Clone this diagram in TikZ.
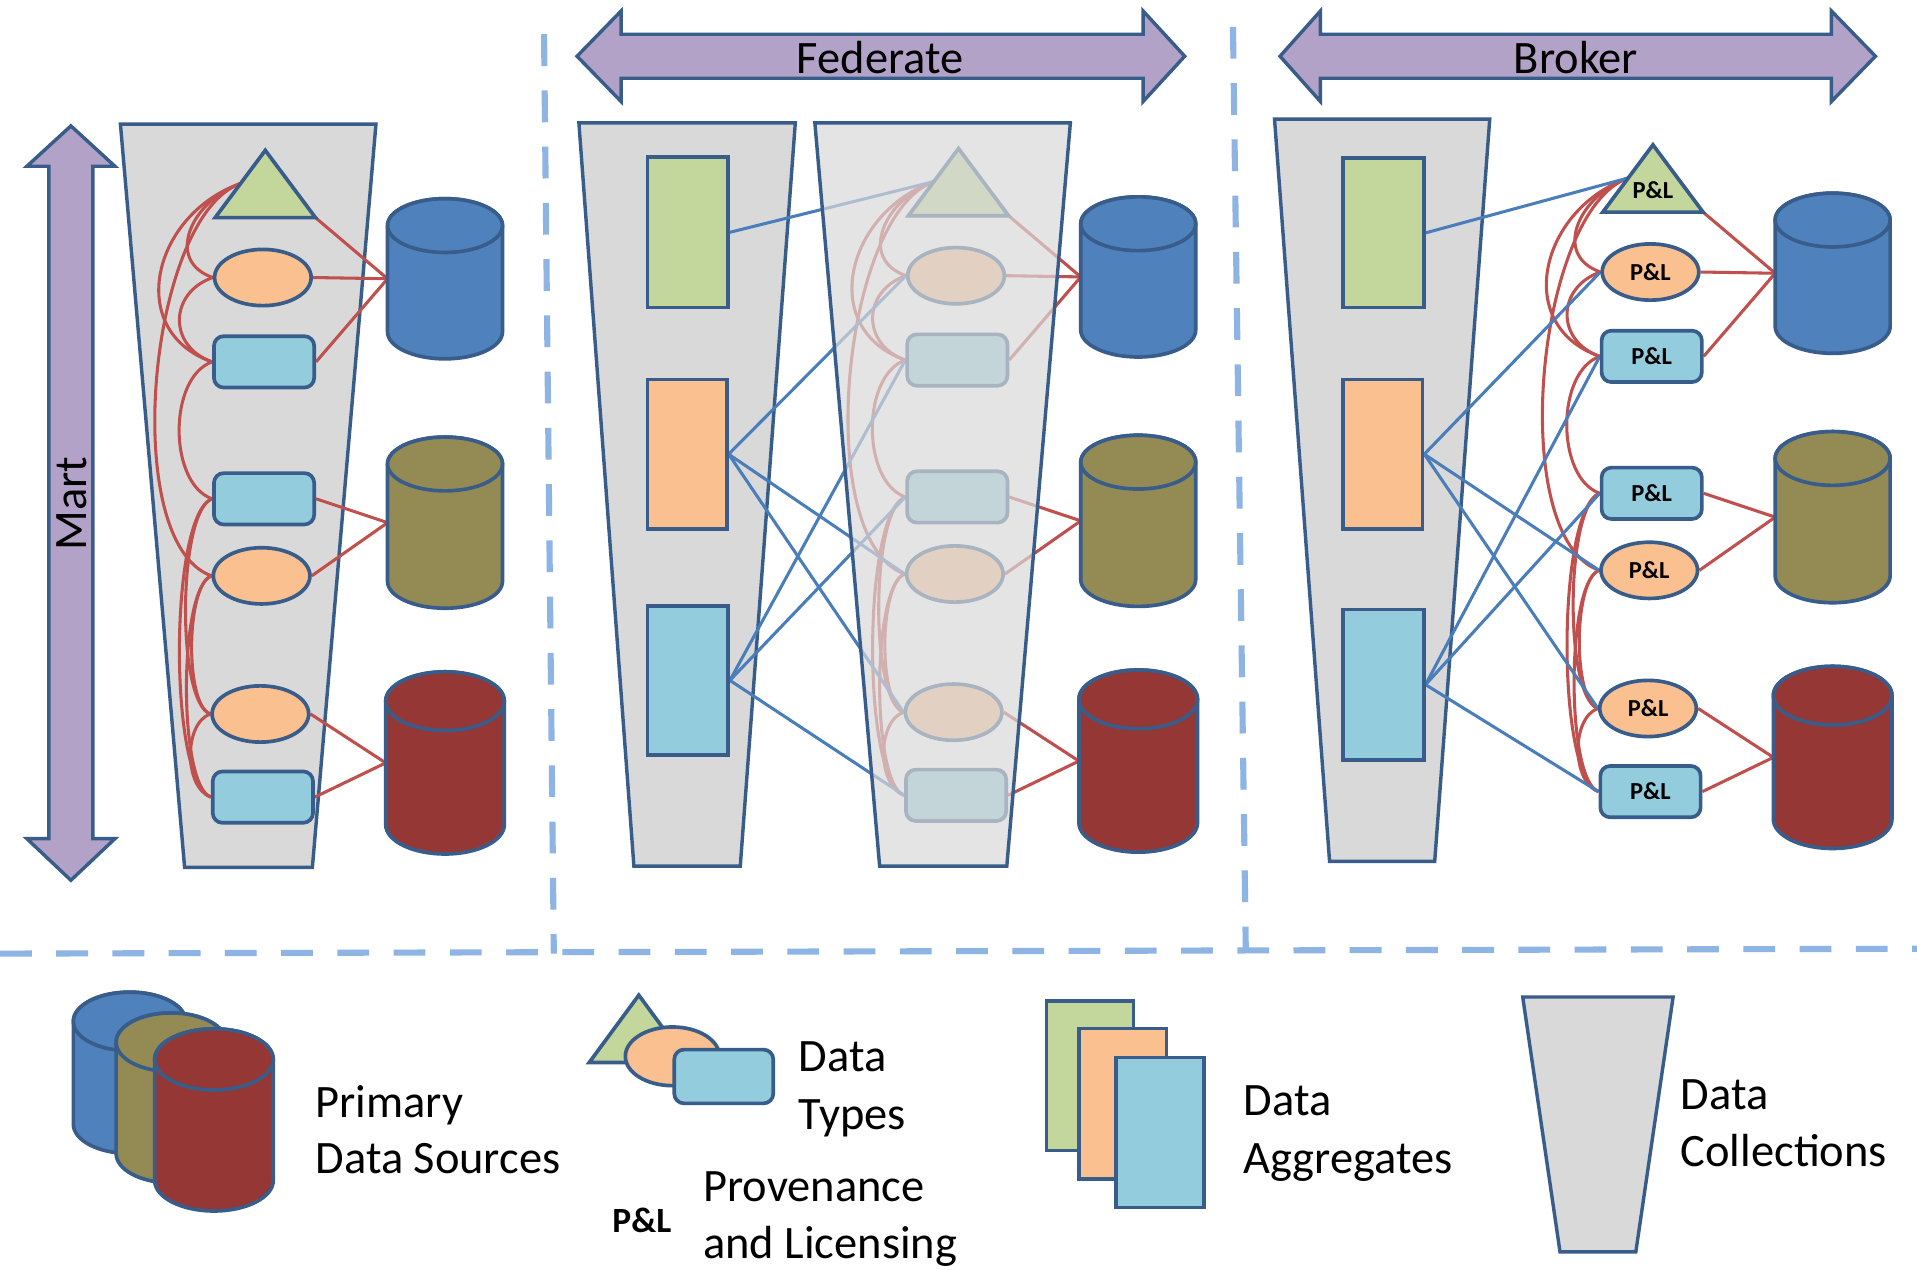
\documentclass[tikz,border=0pt]{standalone}
\usepackage{fontspec}
\setmainfont{Carlito}
\usetikzlibrary{shapes.geometric}
\pgfdeclarelayer{back}
\pgfdeclarelayer{lines}
\pgfdeclarelayer{over}
\pgfsetlayers{back,lines,main,over}
\definecolor{strk}{HTML}{385D8A}
\definecolor{cgray}{HTML}{D9D9D9}
\definecolor{tblue}{HTML}{93CDDD}
\definecolor{torange}{HTML}{FAC090}
\definecolor{tgreen}{HTML}{C3D69B}
\definecolor{lred}{HTML}{C0504D}
\definecolor{lblue}{HTML}{4A7EBB}
\definecolor{purp}{HTML}{B3A2C7}
\definecolor{dashc}{HTML}{8EB4E3}
\definecolor{cylb}{HTML}{4F81BD}
\definecolor{cylo}{HTML}{948A54}
\definecolor{cylr}{HTML}{953735}
\tikzset{
 sOut/.style={draw=strk, line width=3pt},
 sTri/.style={sOut, fill=tgreen},
 sRect/.style={sOut, fill=tblue, rectangle, rounded corners=8pt, minimum width=82pt, minimum height=42pt, inner sep=0pt, font=\bfseries\fontsize{20}{24}\selectfont},
 sEll/.style={sOut, fill=torange, ellipse, minimum width=79pt, minimum height=46pt, inner sep=0pt, font=\bfseries\fontsize{20}{24}\selectfont},
 sPL/.style={inner sep=0pt, font=\bfseries\fontsize{20}{24}\selectfont},
 sAgg/.style={sOut, rectangle, inner sep=0pt},
 sColl/.style={draw=strk, line width=2.8pt, fill=cgray},
 sRed/.style={draw=lred, line width=2.5pt},
 sBlue/.style={draw=lblue, line width=2.5pt},
 sArrow/.style={draw=strk, line width=2.8pt, fill=purp},
 sDash/.style={draw=dashc, line width=5pt, dash pattern=on 26pt off 20pt},
 sLbl/.style={inner sep=0pt, font=\fontsize{38}{46}\selectfont},
}
\newcommand\cylshape[7]{%
 \path[sOut, fill=#7] ({#2-#5},#3) -- ({#2-#5},#4) arc[start angle=180, end angle=0, x radius=#5, y radius=#6] -- ({#2+#5},#3) arc[start angle=0, end angle=-180, x radius=#5, y radius=#6] -- cycle;
 \path[sOut, fill=#7] (#2,#3) ellipse[x radius=#5, y radius=#6];
 \coordinate (#1) at ({#2-#5},{(#3+#4)/2});
}
\newcommand\rcurve[3]{\draw[sRed] (#1) .. controls +({-#3},{0.35*#3}) and +({-#3},{-0.35*#3}) .. (#2);}
\newcommand\typecol[4]{%
\begin{scope}[shift={(#2,#3)}]
 \path[sTri] (217,123) -- (258,178) -- (176,178) -- cycle;
 \coordinate (#1tr) at (258,178);
 \coordinate (#1tp) at (197,150);
 \node[sPL] (#1tx) at (217,160) {#4};
 \node[sEll] (#1e1) at (215,227) {#4};
 \node[sRect] (#1r1) at (216,296) {#4};
 \node[sRect] (#1r2) at (216,408) {#4};
 \node[sEll] (#1e2) at (214,471) {#4};
 \node[sEll] (#1e3) at (213,584) {#4};
 \node[sRect] (#1r3) at (215,652) {#4};
 \cylshape{#1cb}{364}{184.5}{271.5}{47}{22}{cylb}
 \cylshape{#1co}{364}{379.5}{475.5}{47}{22}{cylo}
 \cylshape{#1cr}{364}{573.5}{674.5}{48.5}{24}{cylr}
\end{scope}
\begin{pgfonlayer}{lines}
 \rcurve{#1tp}{#1e1.west}{40}
 \rcurve{#1tp}{#1r1.west}{72}
 \rcurve{#1tp}{#1e2.west}{76}
 \rcurve{#1e1.west}{#1r1.west}{36}
 \rcurve{#1r1.west}{#1r2.west}{36}
 \rcurve{#1r2.west}{#1e3.west}{28}
 \rcurve{#1r2.west}{#1r3.west}{35}
 \rcurve{#1e2.west}{#1e3.west}{21}
 \rcurve{#1e2.west}{#1r3.west}{27}
 \rcurve{#1e3.west}{#1r3.west}{22}
 \draw[sRed] (#1tr) -- (#1cb);
 \draw[sRed] (#1e1.east) -- (#1cb);
 \draw[sRed] (#1r1.east) -- (#1cb);
 \draw[sRed] (#1r2.east) -- (#1co);
 \draw[sRed] (#1e2.east) -- (#1co);
 \draw[sRed] (#1e3.east) -- (#1cr);
 \draw[sRed] (#1r3.east) -- (#1cr);
\end{pgfonlayer}}
\begin{document}
\begin{tikzpicture}[x=1pt,y=-1pt]
\useasboundingbox (0,0) rectangle (1568,1038);
\begin{pgfonlayer}{back}
 \fill[white] (0,0) rectangle (1568,1038);
 \draw[sDash] (445,28) -- (453,780);
 \draw[sDash] (1008.5,22) -- (1019,778);
 \draw[sDash] (0,780) -- (1568,776);
 % block arrows
 \path[sArrow] (472,46) -- (508,9) -- (508,28) -- (935,28) -- (935,9) -- (969,46) -- (935,83) -- (935,64) -- (508,64) -- (508,83) -- cycle;
 \path[sArrow] (1047,46) -- (1080,9) -- (1080,28) -- (1498,28) -- (1498,9) -- (1534,46) -- (1498,83) -- (1498,64) -- (1080,64) -- (1080,83) -- cycle;
 \path[sArrow] (58,103) -- (94,136) -- (76,136) -- (76,686) -- (94,686) -- (58,720) -- (22,686) -- (40,686) -- (40,136) -- (22,136) -- cycle;
 % collections
 \path[sColl] (98.5,101.5) -- (307.5,101.5) -- (255.5,709.5) -- (151,709.5) -- cycle;
 \path[sColl] (473.5,100.5) -- (650.5,100.5) -- (605.5,708.5) -- (518.5,708.5) -- cycle;
 \path[sColl] (1042.5,97.5) -- (1218.5,97.5) -- (1173.5,704.5) -- (1087.5,704.5) -- cycle;
\end{pgfonlayer}
% arrow labels
\node[sLbl] (tfed) at (720,47) {Federate};
\node[sLbl] (tbro) at (1289,47) {Broker};
\node[sLbl, rotate=90] (tmart) at (59,412) {Mart};
% type columns
\typecol{M}{0}{0}{}
\typecol{F}{567}{-1.5}{}
\typecol{B}{1135}{-4.5}{P\&L}
% aggregates
\node[sAgg, fill=tgreen, minimum width=66pt, minimum height=123pt] (fg) at (562.5,190) {};
\node[sAgg, fill=torange, minimum width=65pt, minimum height=122pt] (fo) at (562,371.5) {};
\node[sAgg, fill=tblue, minimum width=66pt, minimum height=122pt] (fb) at (562.5,556.5) {};
\node[sAgg, fill=tgreen, minimum width=66pt, minimum height=122pt] (bg) at (1131.5,190.5) {};
\node[sAgg, fill=torange, minimum width=65pt, minimum height=122pt] (bo) at (1131,371.5) {};
\node[sAgg, fill=tblue, minimum width=66pt, minimum height=123pt] (bb) at (1131.5,560) {};
\begin{pgfonlayer}{lines}
 \draw[sBlue] (fg.east) -- (Ftp);
 \draw[sBlue] (fo.east) -- (Fe1.west);
 \draw[sBlue] (fo.east) -- (Fe2.west);
 \draw[sBlue] (fo.east) -- (Fe3.west);
 \draw[sBlue] (fb.east) -- (Fr1.west);
 \draw[sBlue] (fb.east) -- (Fr2.west);
 \draw[sBlue] (fb.east) -- (Fr3.west);
 \draw[sBlue] (bg.east) -- (Btp);
 \draw[sBlue] (bo.east) -- (Be1.west);
 \draw[sBlue] (bo.east) -- (Be2.west);
 \draw[sBlue] (bo.east) -- (Be3.west);
 \draw[sBlue] (bb.east) -- (Br1.west);
 \draw[sBlue] (bb.east) -- (Br2.west);
 \draw[sBlue] (bb.east) -- (Br3.west);
\end{pgfonlayer}
% faded overlay collection
\begin{pgfonlayer}{over}
 \path[sColl, fill opacity=0.7] (666.5,100.5) -- (875.5,100.5) -- (823.5,708.5) -- (719.5,708.5) -- cycle;
\end{pgfonlayer}
% ---------- legend ----------
\cylshape{Lcb}{106}{835.5}{919.5}{46}{24}{cylb}
\cylshape{Lco}{140}{852.5}{943.5}{45}{24}{cylo}
\cylshape{Lcr}{175}{866.5}{965.5}{48.5}{25}{cylr}
\node[sLbl, anchor=base west] (lp1) at (258,914) {Primary};
\node[sLbl, anchor=base west] (lp2) at (258,960) {Data Sources};
\path[sTri] (522.5,814) -- (563,869) -- (482,869) -- cycle;
\node[sEll, minimum width=77pt, minimum height=48pt] (Le) at (550,864) {};
\node[sRect, minimum width=81pt, minimum height=44pt] (Lr) at (592,880.5) {};
\node[sLbl, anchor=base west] (lt1) at (653,876.5) {Data};
\node[sLbl, anchor=base west] (lt2) at (653,923.5) {Types};
\node[inner sep=0pt, font=\bfseries\fontsize{29}{34}\selectfont, anchor=base] (Lpl) at (525,1008) {P\&L};
\node[sLbl, anchor=base west] (lv1) at (575,983) {Provenance};
\node[sLbl, anchor=base west] (lv2) at (575,1029) {and Licensing};
\node[sAgg, fill=tgreen, minimum width=71pt, minimum height=122pt] (Lag) at (891.5,880) {};
\node[sAgg, fill=torange, minimum width=71.5pt, minimum height=123pt] (Lao) at (918.3,902.7) {};
\node[sAgg, fill=tblue, minimum width=71.5pt, minimum height=122.5pt] (Lab) at (948.8,926.3) {};
\node[sLbl, anchor=base west] (la1) at (1017,912.5) {Data};
\node[sLbl, anchor=base west] (la2) at (1017,960) {Aggregates};
\path[sColl] (1245.5,815.5) -- (1368.5,815.5) -- (1338,1024) -- (1276,1024) -- cycle;
\node[sLbl, anchor=base west] (lc1) at (1374.5,907.5) {Data};
\node[sLbl, anchor=base west] (lc2) at (1374.5,954.5) {Collections};
\end{tikzpicture}
\end{document}
